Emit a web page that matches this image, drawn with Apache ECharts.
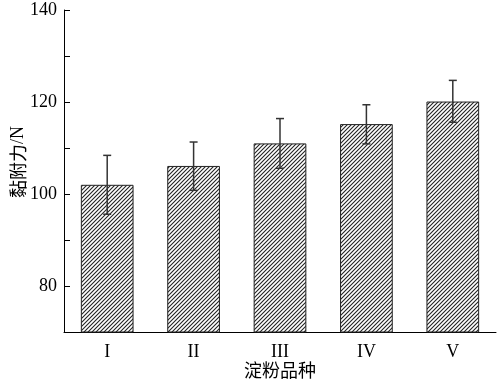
<!DOCTYPE html>
<html>
<head>
<meta charset="utf-8">
<script src="https://cdn.jsdelivr.net/npm/echarts@6/dist/echarts.min.js"></script>
<style>html,body{margin:0;padding:0;background:#fff}#c{width:500px;height:384px}</style>
</head>
<body>
<div id="c"></div>
<script>
var categories = ['I', 'II', 'III', 'IV', 'V'];
var values = [102.0, 106.1, 111.0, 115.2, 120.1];
var errLow = [95.6, 100.8, 105.6, 110.9, 115.6];
var errHigh = [108.4, 111.3, 116.4, 119.4, 124.7];
var yTickLabels = [80, 100, 120, 140];

// hatch pattern tile
var tile = document.createElement('canvas');
tile.width = 4; tile.height = 4;
var tc = tile.getContext('2d');
tc.fillStyle = '#fff';
tc.fillRect(0, 0, 4, 4);
tc.strokeStyle = '#222';
tc.lineWidth = 1.1;
tc.beginPath();
tc.moveTo(0, 4); tc.lineTo(4, 0);
tc.moveTo(-1, 1); tc.lineTo(1, -1);
tc.moveTo(3, 5); tc.lineTo(5, 3);
tc.stroke();

var chart = echarts.init(document.getElementById('c'), null, {renderer: 'canvas'});
var serif = '"Liberation Serif", "Times New Roman", serif';
var cjk = '"Noto Sans CJK SC", sans-serif';

var errData = categories.map(function (c, i) { return [i, errLow[i], errHigh[i]]; });

chart.setOption({
  animation: false,
  backgroundColor: '#fff',
  grid: {left: 64, right: 4, top: 10, bottom: 52, containLabel: false, outerBoundsMode: 'none'},
  xAxis: [{
    type: 'category',
    data: categories,
    name: '淀粉品种',
    nameLocation: 'middle',
    nameGap: 29,
    nameMoveOverlap: false,
    nameTextStyle: {fontFamily: cjk, fontSize: 18, color: '#000'},
    axisLine: {lineStyle: {color: '#000', width: 1}},
    axisTick: {inside: true, length: 3, alignWithLabel: false, lineStyle: {color: '#000'}},
    axisLabel: {fontFamily: serif, fontSize: 18, color: '#000', margin: 11},
    splitLine: {show: false}
  }, {
    type: 'category',
    data: categories,
    position: 'bottom',
    axisLine: {show: false},
    axisTick: {inside: true, length: 3, alignWithLabel: true, lineStyle: {color: '#000'}},
    axisLabel: {show: false},
    splitLine: {show: false}
  }],
  yAxis: {
    type: 'value',
    min: 70, max: 140, interval: 10,
    name: '{a|黏附力}{b|/N}',
    nameLocation: 'middle',
    nameGap: 37,
    nameRotate: 90,
    nameMoveOverlap: false,
    nameTextStyle: {
      padding: [0, 0, 0, 18],
      rich: {
        a: {fontFamily: cjk, fontSize: 18, color: '#000'},
        b: {fontFamily: serif, fontSize: 18, color: '#000'}
      }
    },
    axisLine: {show: true, lineStyle: {color: '#000', width: 1}},
    axisTick: {show: true, inside: true, length: 6, lineStyle: {color: '#000'}},
    axisLabel: {
      fontFamily: serif, fontSize: 18, color: '#000', margin: 7,
      formatter: function (v) { return yTickLabels.indexOf(v) >= 0 ? String(v) : ''; }
    },
    splitLine: {show: false}
  },
  series: [{
    type: 'bar',
    data: values,
    barWidth: '61%',
    itemStyle: {
      color: {image: tile, repeat: 'repeat'},
      borderColor: '#222',
      borderWidth: 1
    }
  }, {
    type: 'custom',
    data: errData,
    z: 10,
    renderItem: function (params, api) {
      var x = api.value(0);
      var lo = api.coord([x, api.value(1)]);
      var hi = api.coord([x, api.value(2)]);
      var hw = 4;
      var st = {stroke: '#333', lineWidth: 1.5};
      return {
        type: 'group',
        children: [
          {type: 'line', shape: {x1: lo[0], y1: lo[1], x2: hi[0], y2: hi[1]}, style: st},
          {type: 'line', shape: {x1: hi[0] - hw, y1: hi[1], x2: hi[0] + hw, y2: hi[1]}, style: st},
          {type: 'line', shape: {x1: lo[0] - hw, y1: lo[1], x2: lo[0] + hw, y2: lo[1]}, style: st}
        ]
      };
    }
  }]
});
</script>
</body>
</html>
